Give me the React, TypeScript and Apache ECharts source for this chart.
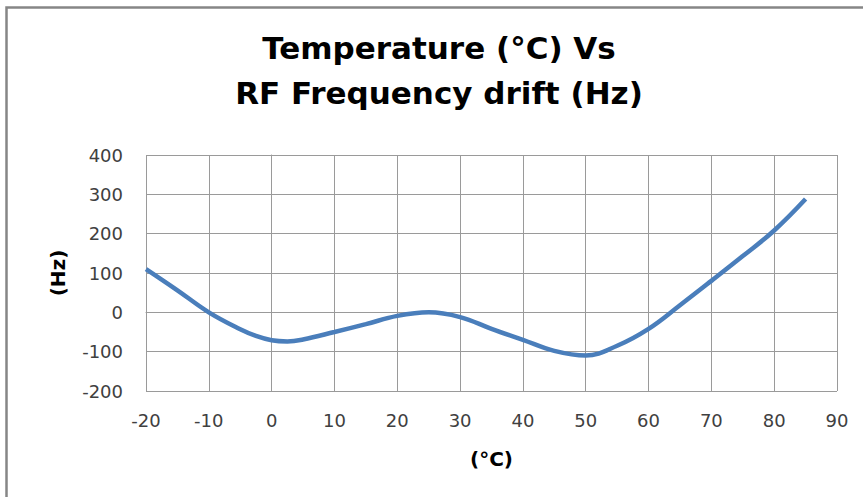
import React, { useEffect, useRef } from "react";
import * as echarts from "echarts";

const titleLines = ["Temperature (°C) Vs", "RF Frequency drift (Hz)"];
const xAxisName = "(°C)";
const yAxisName = "(Hz)";
const temperatures = [-20, -15, -10, -5, -2.5, 0, 2.5, 5, 10, 15, 20, 25, 30, 35, 40, 45, 50, 55, 60, 65, 70, 75, 80, 85];
const drift = [110, 56, 0, -43, -60, -71, -74, -69, -50, -30, -9, 0, -12, -42, -70, -98, -110, -85, -42, 18, 80, 143, 208, 288];

export default function App() {
  const ref = useRef<HTMLDivElement>(null);
  useEffect(() => {
    if (!ref.current) return;
    const chart = echarts.init(ref.current, undefined, { renderer: "svg" });
    const data = temperatures.map((t, i) => [t, drift[i]]);
    chart.setOption({
      animation: false,
      backgroundColor: "#ffffff",
      title: {
        text: titleLines.join("\n"),
        left: 439,
        top: 25,
        textAlign: "center",
        padding: 0,
        textStyle: {
          fontFamily: "DejaVu Sans",
          fontWeight: "bold",
          fontSize: 31,
          lineHeight: 45,
          color: "#000000",
        },
      },
      graphic: [
        {
          type: "rect",
          shape: { x: 6.5, y: 7.5, width: 1000, height: 1000 },
          style: { fill: "none", stroke: "#868686", lineWidth: 2.5 },
          silent: true,
        },
      ],
      grid: { left: 146, right: 26, top: 155, bottom: 106 },
      xAxis: {
        type: "value",
        min: -20,
        max: 90,
        interval: 10,
        name: xAxisName,
        nameLocation: "middle",
        nameGap: 58,
        nameTextStyle: { fontFamily: "DejaVu Sans", fontWeight: "bold", fontSize: 20, color: "#000" },
        axisLine: { show: true, lineStyle: { color: "#9a9a9a", width: 1 } },
        axisTick: { show: true, inside: false, length: 8, lineStyle: { color: "#9a9a9a" } },
        splitLine: { show: true, lineStyle: { color: "#9a9a9a", width: 1 } },
        axisLabel: { fontFamily: "DejaVu Sans", fontSize: 18, color: "#404040", margin: 20 },
      },
      yAxis: {
        type: "value",
        min: -200,
        max: 400,
        interval: 100,
        name: yAxisName,
        nameLocation: "middle",
        nameGap: 78,
        nameRotate: 90,
        nameTextStyle: { fontFamily: "DejaVu Sans", fontWeight: "bold", fontSize: 20, color: "#000" },
        axisLine: { show: true, lineStyle: { color: "#9a9a9a", width: 1 } },
        axisTick: { show: true, inside: false, length: 8, lineStyle: { color: "#9a9a9a" } },
        splitLine: { show: true, lineStyle: { color: "#9a9a9a", width: 1 } },
        axisLabel: { fontFamily: "DejaVu Sans", fontSize: 18, color: "#404040", margin: 23 },
      },
      series: [
        {
          type: "line",
          data,
          smooth: 0.4,
          showSymbol: false,
          symbol: "none",
          lineStyle: { color: "#4a7ebb", width: 4.5 },
        },
      ],
    });
    return () => chart.dispose();
  }, []);
  return <div ref={ref} style={{ width: 863, height: 497, position: "absolute", left: 0, top: 0 }} />;
}
